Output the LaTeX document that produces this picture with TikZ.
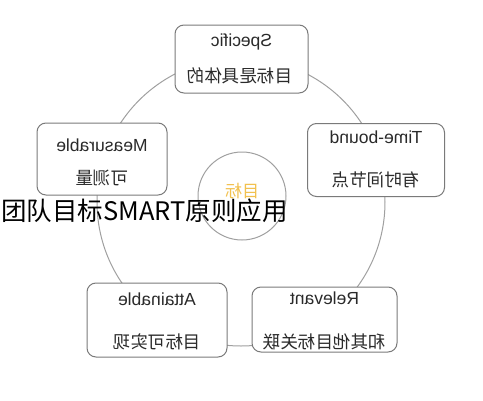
\documentclass[tikz,border=0pt]{standalone}
\usepackage{fontspec}
\usepackage{graphicx}
\setmainfont{Liberation Sans}
\newfontfamily\cjk{Noto Sans CJK SC}
\definecolor{ringgray}{HTML}{A0A0A0}
\definecolor{boxgray}{HTML}{7A7A7A}
\definecolor{txtgray}{HTML}{2A2A2A}
\definecolor{goldy}{HTML}{F2C14E}
\tikzset{
  smartbox/.style={draw=boxgray, line width=1pt, fill=white, rounded corners=9pt, inner sep=0pt},
  entxt/.style={text=txtgray, font=\fontsize{17.5}{19}\selectfont, inner sep=0pt},
  cntxt/.style={text=txtgray, font=\cjk\fontsize{17.5}{19}\selectfont, inner sep=0pt},
}
\newcommand{\mir}[1]{\reflectbox{#1}}
\begin{document}
\begin{tikzpicture}[x=1pt,y=-1pt]
\useasboundingbox (0,0) rectangle (483,400);
% outer ring
\draw[ringgray, line width=1pt] (241,202) circle[radius=144];
% boxes
\node[smartbox, minimum width=133pt, minimum height=68pt] (spec) at (241.5,59) {};
\node[smartbox, minimum width=130pt, minimum height=72pt] (meas) at (102,159) {};
\node[smartbox, minimum width=137pt, minimum height=73pt] (time) at (376,160) {};
\node[smartbox, minimum width=140pt, minimum height=74pt] (atta) at (157,320) {};
\node[smartbox, minimum width=145pt, minimum height=65pt] (rele) at (324.5,319.5) {};
% texts
\node[entxt] (specen) at (241.5,42) {\mir{Specific}};
\node[cntxt] (speccn) at (240,76) {\mir{目标是具体的}};
\node[entxt] (measen) at (102,145) {\mir{Measurable}};
\node[cntxt] (meascn) at (102,178) {\mir{可测量}};
\node[entxt] (timeen) at (376,137) {\mir{Time-bound}};
\node[cntxt] (timecn) at (376,180) {\mir{有时间节点}};
\node[entxt] (attaen) at (157,299) {\mir{Attainable}};
\node[cntxt] (attacn) at (157,342) {\mir{目标可实现}};
\node[entxt] (releen) at (324.5,298) {\mir{Relevant}};
\node[cntxt] (relecn) at (324.5,342) {\mir{和其他目标关联}};
% center circle
\draw[ringgray, line width=1pt, fill=white] (242,196) circle[radius=44];
\node[text=goldy, font=\cjk\fontsize{17}{19}\selectfont, inner sep=0pt] (core) at (242,191) {\mir{目标}};
% title
\node[anchor=west, text=black, font=\cjk\fontsize{25.5}{28}\selectfont, inner sep=0pt] (title) at (1,211) {团队目标SMART原则应用};
\end{tikzpicture}
\end{document}
